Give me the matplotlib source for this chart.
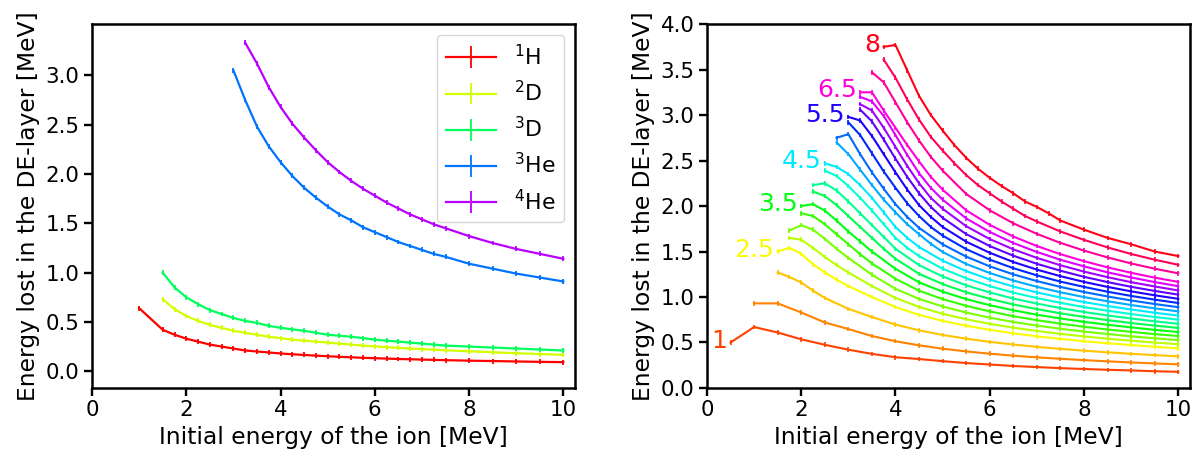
import matplotlib
matplotlib.use('Agg')
import matplotlib.pyplot as plt

# left panel: energy lost in the DE-layer for different ions
ions = ['$^{1}$H', '$^{2}$D', '$^{3}$D', '$^{3}$He', '$^{4}$He']
energy_h1 = [1.0, 1.5, 1.75, 2.0, 2.25, 2.5, 2.75, 3.0, 3.25, 3.5, 3.75, 4.0, 4.25, 4.5, 4.75, 5.0,
             5.25, 5.5, 5.75, 6.0, 6.25, 6.5, 6.75, 7.0, 7.25, 7.5, 8.0, 8.5, 9.0, 9.5, 10.0]
loss_h1 = [0.64, 0.42, 0.37, 0.33, 0.30, 0.27, 0.25, 0.23, 0.21, 0.20, 0.19, 0.18, 0.172, 0.165, 0.158, 0.152,
           0.146, 0.141, 0.136, 0.132, 0.128, 0.124, 0.121, 0.118, 0.115, 0.112, 0.107, 0.103, 0.099, 0.095, 0.092]
energy_d2 = [1.5, 1.75, 2.0, 2.25, 2.5, 2.75, 3.0, 3.25, 3.5, 3.75, 4.0, 4.25, 4.5, 4.75, 5.0,
             5.25, 5.5, 5.75, 6.0, 6.25, 6.5, 6.75, 7.0, 7.25, 7.5, 8.0, 8.5, 9.0, 9.5, 10.0]
loss_d2 = [0.73, 0.63, 0.56, 0.51, 0.47, 0.44, 0.41, 0.39, 0.37, 0.35, 0.335, 0.32, 0.31, 0.30, 0.29,
           0.28, 0.27, 0.26, 0.252, 0.244, 0.237, 0.23, 0.224, 0.218, 0.212, 0.202, 0.192, 0.183, 0.174, 0.166]
energy_d3 = [1.5, 1.75, 2.0, 2.25, 2.5, 2.75, 3.0, 3.25, 3.5, 3.75, 4.0, 4.25, 4.5, 4.75, 5.0,
             5.25, 5.5, 5.75, 6.0, 6.25, 6.5, 6.75, 7.0, 7.25, 7.5, 8.0, 8.5, 9.0, 9.5, 10.0]
loss_d3 = [1.0, 0.85, 0.75, 0.68, 0.62, 0.58, 0.54, 0.51, 0.49, 0.46, 0.44, 0.425, 0.41, 0.39, 0.37,
           0.36, 0.35, 0.335, 0.32, 0.31, 0.30, 0.29, 0.28, 0.27, 0.26, 0.25, 0.24, 0.23, 0.22, 0.21]
energy_he3 = [3.0, 3.25, 3.5, 3.75, 4.0, 4.25, 4.5, 4.75, 5.0, 5.25, 5.5, 5.75, 6.0, 6.25, 6.5,
              6.75, 7.0, 7.25, 7.5, 8.0, 8.5, 9.0, 9.5, 10.0]
loss_he3 = [3.05, 2.75, 2.48, 2.28, 2.12, 1.98, 1.86, 1.76, 1.67, 1.59, 1.53, 1.46, 1.41, 1.36, 1.31,
            1.27, 1.23, 1.19, 1.16, 1.09, 1.04, 0.99, 0.95, 0.91]
energy_he4 = [3.25, 3.5, 3.75, 4.0, 4.25, 4.5, 4.75, 5.0, 5.25, 5.5, 5.75, 6.0, 6.25, 6.5,
              6.75, 7.0, 7.25, 7.5, 8.0, 8.5, 9.0, 9.5, 10.0]
loss_he4 = [3.33, 3.12, 2.88, 2.68, 2.51, 2.37, 2.24, 2.12, 2.02, 1.93, 1.85, 1.78, 1.71, 1.65,
            1.59, 1.54, 1.49, 1.45, 1.37, 1.30, 1.24, 1.19, 1.14]

# right panel: one curve per layer setting, labelled ones get a number
thickness = [1, 1.5, 2, 2.5, 2.75, 3, 3.25, 3.5, 3.75, 4, 4.25, 4.5, 4.75, 5, 5.25, 5.5,
             5.75, 6, 6.25, 6.5, 7, 7.5, 8]
labelled = [1, 2.5, 3.5, 4.5, 5.5, 6.5, 8]
tail_e = [5.5, 6.0, 6.5, 7.0, 7.5, 8.0, 8.5, 9.0, 9.5, 10.0]
right_e = [
    [0.5, 1.0, 1.5, 2.0, 2.5, 3.0, 3.5, 4.0, 4.5, 5.0] + tail_e,
    [1.0, 1.5, 2.0, 2.5, 3.0, 3.5, 4.0, 4.5, 5.0] + tail_e,
    [1.5, 1.75, 2.0, 2.25, 2.5, 3.0, 3.5, 4.0, 4.5, 5.0] + tail_e,
    [1.5, 1.75, 2.0, 2.25, 2.5, 2.75, 3.0, 3.5, 4.0, 4.5, 5.0] + tail_e,
    [1.75, 2.0, 2.25, 2.5, 2.75, 3.0, 3.5, 4.0, 4.5, 5.0] + tail_e,
    [1.75, 2.0, 2.25, 2.5, 2.75, 3.0, 3.5, 4.0, 4.5, 5.0] + tail_e,
    [2.0, 2.25, 2.5, 2.75, 3.0, 3.25, 3.5, 4.0, 4.5, 5.0] + tail_e,
    [2.0, 2.25, 2.5, 2.75, 3.0, 3.25, 3.5, 4.0, 4.5, 5.0] + tail_e,
    [2.25, 2.5, 2.75, 3.0, 3.25, 3.5, 3.75, 4.0, 4.5, 5.0] + tail_e,
    [2.25, 2.5, 2.75, 3.0, 3.25, 3.5, 3.75, 4.0, 4.5, 5.0] + tail_e,
    [2.5, 2.75, 3.0, 3.25, 3.5, 3.75, 4.0, 4.25, 4.5, 5.0] + tail_e,
    [2.5, 2.75, 3.0, 3.25, 3.5, 3.75, 4.0, 4.25, 4.5, 5.0] + tail_e,
    [2.75, 3.0, 3.25, 3.5, 3.75, 4.0, 4.25, 4.5, 4.75, 5.0] + tail_e,
    [2.75, 3.0, 3.25, 3.5, 3.75, 4.0, 4.25, 4.5, 5.0] + tail_e,
    [3.0, 3.25, 3.5, 3.75, 4.0, 4.25, 4.5, 4.75, 5.0] + tail_e,
    [3.0, 3.25, 3.5, 3.75, 4.0, 4.25, 4.5, 4.75, 5.0] + tail_e,
    [3.25, 3.5, 3.75, 4.0, 4.25, 4.5, 4.75, 5.0] + tail_e,
    [3.25, 3.5, 3.75, 4.0, 4.25, 4.5, 4.75, 5.0] + tail_e,
    [3.25, 3.5, 3.75, 4.0, 4.25, 4.5, 4.75, 5.0] + tail_e,
    [3.25, 3.5, 3.75, 4.0, 4.25, 4.5, 4.75, 5.0] + tail_e,
    [3.5, 3.75, 4.0, 4.25, 4.5, 4.75, 5.0] + tail_e,
    [3.75, 4.0, 4.25, 4.5, 4.75, 5.0, 5.25, 5.5, 5.75, 6.0, 6.25, 6.5, 6.75, 7.0,
     7.5, 8.0, 8.5, 9.0, 9.5, 10.0],
    [3.75, 4.0, 4.25, 4.5, 4.75, 5.0, 5.25, 5.5, 5.75, 6.0, 6.25, 6.5, 6.75, 7.0,
     7.25, 7.5, 8.0, 8.5, 9.0, 9.5, 10.0],
]
right_de = [
    [0.50, 0.67, 0.61, 0.535, 0.475, 0.421, 0.375, 0.338, 0.318, 0.295,
     0.274, 0.258, 0.242, 0.230, 0.218, 0.209, 0.200, 0.193, 0.184, 0.178],
    [0.93, 0.93, 0.83, 0.72, 0.648, 0.571, 0.514, 0.469, 0.432,
     0.402, 0.377, 0.355, 0.337, 0.321, 0.306, 0.293, 0.281, 0.270, 0.260],
    [1.27, 1.22, 1.16, 1.07, 0.99, 0.87, 0.78, 0.697, 0.634, 0.583,
     0.542, 0.507, 0.478, 0.452, 0.430, 0.410, 0.392, 0.376, 0.361, 0.348],
    [1.50, 1.54, 1.475, 1.36, 1.27, 1.19, 1.12, 1.00, 0.89, 0.804, 0.738,
     0.684, 0.639, 0.601, 0.568, 0.540, 0.514, 0.492, 0.472, 0.453, 0.436],
    [1.65, 1.63, 1.54, 1.44, 1.35, 1.27, 1.12, 0.99, 0.891, 0.816,
     0.756, 0.705, 0.663, 0.627, 0.595, 0.567, 0.542, 0.520, 0.499, 0.481],
    [1.73, 1.79, 1.74, 1.64, 1.53, 1.43, 1.245, 1.09, 0.979, 0.896,
     0.829, 0.773, 0.726, 0.686, 0.651, 0.620, 0.593, 0.568, 0.546, 0.526],
    [1.92, 1.89, 1.80, 1.69, 1.58, 1.47, 1.37, 1.20, 1.070, 0.977,
     0.903, 0.842, 0.789, 0.745, 0.707, 0.673, 0.643, 0.617, 0.592, 0.571],
    [2.00, 2.02, 1.95, 1.84, 1.72, 1.61, 1.50, 1.31, 1.161, 1.059,
     0.977, 0.910, 0.854, 0.806, 0.764, 0.727, 0.695, 0.666, 0.639, 0.615],
    [2.16, 2.11, 2.01, 1.89, 1.77, 1.65, 1.53, 1.42, 1.255, 1.142,
     1.052, 0.980, 0.918, 0.867, 0.821, 0.781, 0.746, 0.714, 0.686, 0.660],
    [2.23, 2.25, 2.17, 2.05, 1.92, 1.79, 1.66, 1.53, 1.350, 1.226,
     1.129, 1.050, 0.983, 0.928, 0.878, 0.835, 0.797, 0.764, 0.733, 0.706],
    [2.39, 2.33, 2.22, 2.09, 1.95, 1.80, 1.65, 1.54, 1.45, 1.311,
     1.206, 1.120, 1.048, 0.989, 0.936, 0.889, 0.849, 0.813, 0.780, 0.751],
    [2.47, 2.43, 2.35, 2.23, 2.09, 1.93, 1.77, 1.65, 1.55, 1.399,
     1.285, 1.192, 1.115, 1.050, 0.995, 0.944, 0.901, 0.863, 0.827, 0.796],
    [2.70, 2.57, 2.40, 2.23, 2.07, 1.93, 1.80, 1.69, 1.585, 1.495,
     1.363, 1.264, 1.181, 1.112, 1.052, 0.999, 0.953, 0.912, 0.875, 0.842],
    [2.75, 2.79, 2.57, 2.37, 2.19, 2.02, 1.88, 1.76, 1.579,
     1.444, 1.337, 1.249, 1.175, 1.111, 1.055, 1.006, 0.962, 0.923, 0.888],
    [2.92, 2.78, 2.58, 2.38, 2.20, 2.03, 1.89, 1.77, 1.675,
     1.526, 1.411, 1.317, 1.238, 1.169, 1.111, 1.058, 1.012, 0.971, 0.934],
    [2.98, 2.94, 2.77, 2.57, 2.37, 2.18, 2.01, 1.88, 1.77,
     1.608, 1.486, 1.385, 1.301, 1.229, 1.166, 1.111, 1.062, 1.019, 0.980],
    [3.06, 2.93, 2.73, 2.52, 2.32, 2.14, 1.99, 1.87,
     1.692, 1.560, 1.454, 1.365, 1.289, 1.222, 1.164, 1.112, 1.067, 1.026],
    [3.12, 3.05, 2.86, 2.65, 2.44, 2.25, 2.09, 1.97,
     1.778, 1.637, 1.524, 1.430, 1.349, 1.279, 1.218, 1.163, 1.116, 1.072],
    [3.20, 3.15, 2.99, 2.78, 2.56, 2.36, 2.20, 2.07,
     1.864, 1.715, 1.594, 1.495, 1.409, 1.337, 1.271, 1.215, 1.164, 1.119],
    [3.25, 3.25, 3.05, 2.86, 2.67, 2.49, 2.32, 2.18,
     1.953, 1.793, 1.665, 1.560, 1.471, 1.394, 1.326, 1.266, 1.213, 1.166],
    [3.47, 3.36, 3.14, 2.92, 2.72, 2.54, 2.39,
     2.133, 1.953, 1.810, 1.694, 1.595, 1.510, 1.435, 1.369, 1.311, 1.260],
    [3.61, 3.41, 3.17, 2.95, 2.76, 2.61, 2.47, 2.34, 2.23, 2.14, 2.05, 1.97, 1.89, 1.83,
     1.72, 1.628, 1.545, 1.473, 1.410, 1.354],
    [3.75, 3.77, 3.49, 3.21, 3.00, 2.83, 2.67, 2.53, 2.41, 2.31, 2.22, 2.14, 2.05, 1.99,
     1.92, 1.84, 1.74, 1.65, 1.58, 1.50, 1.45],
]

plt.rcParams['font.family'] = 'DejaVu Sans'
plt.rcParams['axes.linewidth'] = 1.8
plt.rcParams['xtick.major.size'] = 5.5
plt.rcParams['ytick.major.size'] = 5.5
plt.rcParams['xtick.major.width'] = 1.7
plt.rcParams['ytick.major.width'] = 1.7
plt.rcParams['xtick.labelsize'] = 15.4
plt.rcParams['ytick.labelsize'] = 15.4
plt.rcParams['axes.labelsize'] = 16.8

fig, (ax1, ax2) = plt.subplots(1, 2, figsize=(12, 4.54), dpi=100)
fig.subplots_adjust(left=0.0767, right=0.9917, bottom=0.1454, top=0.947, wspace=0.273)

left_e = [energy_h1, energy_d2, energy_d3, energy_he3, energy_he4]
left_de = [loss_h1, loss_d2, loss_d3, loss_he3, loss_he4]
for i, name in enumerate(ions):
    ax1.errorbar(left_e[i], left_de[i], yerr=0.025, color=plt.cm.hsv(i / 5), lw=1.6,
                 elinewidth=1.3, capsize=0, label=name)
ax1.errorbar([0], [0], yerr=0.02, color=plt.cm.hsv(0.8), lw=1.6, capsize=0)
ax1.set_xlim(0, 10.25)
ax1.set_ylim(-0.17, 3.52)
ax1.set_xticks([0, 2, 4, 6, 8, 10])
ax1.set_yticks([0.0, 0.5, 1.0, 1.5, 2.0, 2.5, 3.0])
ax1.set_xlabel('Initial energy of the ion [MeV]')
ax1.set_ylabel('Energy lost in the DE-layer [MeV]')
ax1.legend(loc='upper right', fontsize=15.8, handlelength=2.3)

n = len(thickness)
for i, t in enumerate(thickness):
    c = plt.cm.hsv((i + 1) / n)
    ax2.errorbar(right_e[i], right_de[i], yerr=0.025, color=c, lw=1.5, elinewidth=1.2, capsize=0)
    if t in labelled:
        ax2.text(right_e[i][0] - 0.07, right_de[i][0] + 0.02, f'{t:g}', color=c, fontsize=18,
                 ha='right', va='center')
ax2.set_xlim(0, 10.25)
ax2.set_ylim(0, 4)
ax2.set_xticks([0, 2, 4, 6, 8, 10])
ax2.set_yticks([0.0, 0.5, 1.0, 1.5, 2.0, 2.5, 3.0, 3.5, 4.0])
ax2.set_xlabel('Initial energy of the ion [MeV]')
ax2.set_ylabel('Energy lost in the DE-layer [MeV]')

fig.savefig('out.png', dpi=100)
